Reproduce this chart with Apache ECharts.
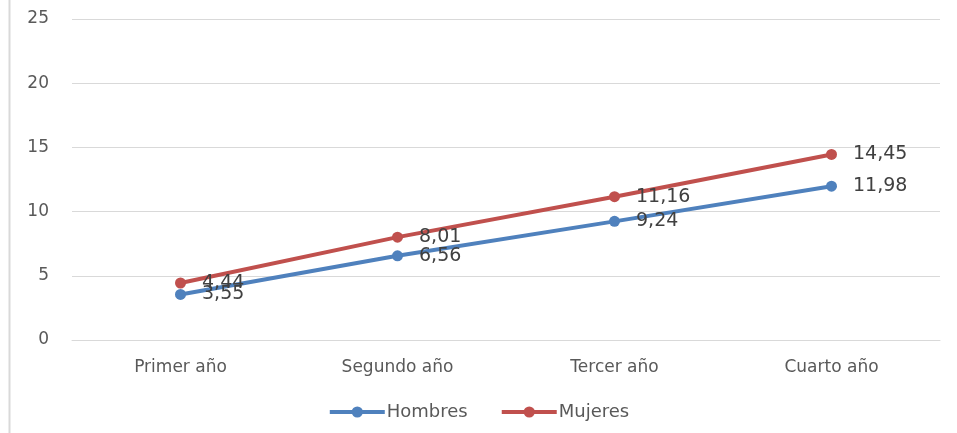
<!DOCTYPE html>
<html>
<head>
<meta charset="utf-8">
<script src="https://cdn.jsdelivr.net/npm/echarts@6/dist/echarts.min.js"></script>
<style>
  html, body { margin: 0; padding: 0; background: #fff; }
  #chart { width: 957px; height: 433px; }
</style>
</head>
<body>
<div id="chart"></div>
<script>
const categories = ['Primer año', 'Segundo año', 'Tercer año', 'Cuarto año'];
const hombres = [3.55, 6.56, 9.24, 11.98];
const mujeres = [4.44, 8.01, 11.16, 14.45];
const yTicks = { min: 0, max: 25, interval: 5 };

const chart = echarts.init(document.getElementById('chart'));

const fmt = (p) => p.value.toFixed(2).replace('.', ',');

const makeSeries = (name, data, color) => ({
  name: name,
  type: 'line',
  data: data,
  symbol: 'circle',
  symbolSize: 11,
  lineStyle: { width: 4, color: color },
  itemStyle: { color: color },
  label: {
    show: true,
    position: 'right',
    distance: 16,
    formatter: fmt,
    color: '#404040',
    fontSize: 19,
    fontFamily: 'DejaVu Sans'
  },
  emphasis: { disabled: true }
});

chart.setOption({
  animation: false,
  grid: { left: 72, right: 17, top: 19, bottom: 93 },
  xAxis: {
    type: 'category',
    data: categories,
    axisLine: { show: true, lineStyle: { color: '#d9d9d9', width: 1 } },
    axisTick: { show: false },
    axisLabel: { color: '#595959', fontSize: 17, fontFamily: 'DejaVu Sans', margin: 19 }
  },
  yAxis: {
    type: 'value',
    min: yTicks.min,
    max: yTicks.max,
    interval: yTicks.interval,
    axisLine: { show: false },
    axisTick: { show: false },
    axisLabel: { color: '#595959', fontSize: 17, fontFamily: 'DejaVu Sans', margin: 23 },
    splitLine: { lineStyle: { color: '#d9d9d9', width: 1 } }
  },
  legend: {
    bottom: 7,
    left: 'center',
    itemWidth: 55,
    itemHeight: 14,
    itemGap: 32,
    lineStyle: { width: 4 },
    textStyle: { color: '#595959', fontSize: 18, fontFamily: 'DejaVu Sans', padding: [0, 0, 0, -3] },
    data: ['Hombres', 'Mujeres']
  },
  graphic: [{
    type: 'line',
    shape: { x1: 9.5, y1: 0, x2: 9.5, y2: 433 },
    style: { stroke: '#d9d9d9', lineWidth: 2 }
  }],
  series: [
    makeSeries('Hombres', hombres, '#4f81bd'),
    makeSeries('Mujeres', mujeres, '#c0504d')
  ]
});
</script>
</body>
</html>
